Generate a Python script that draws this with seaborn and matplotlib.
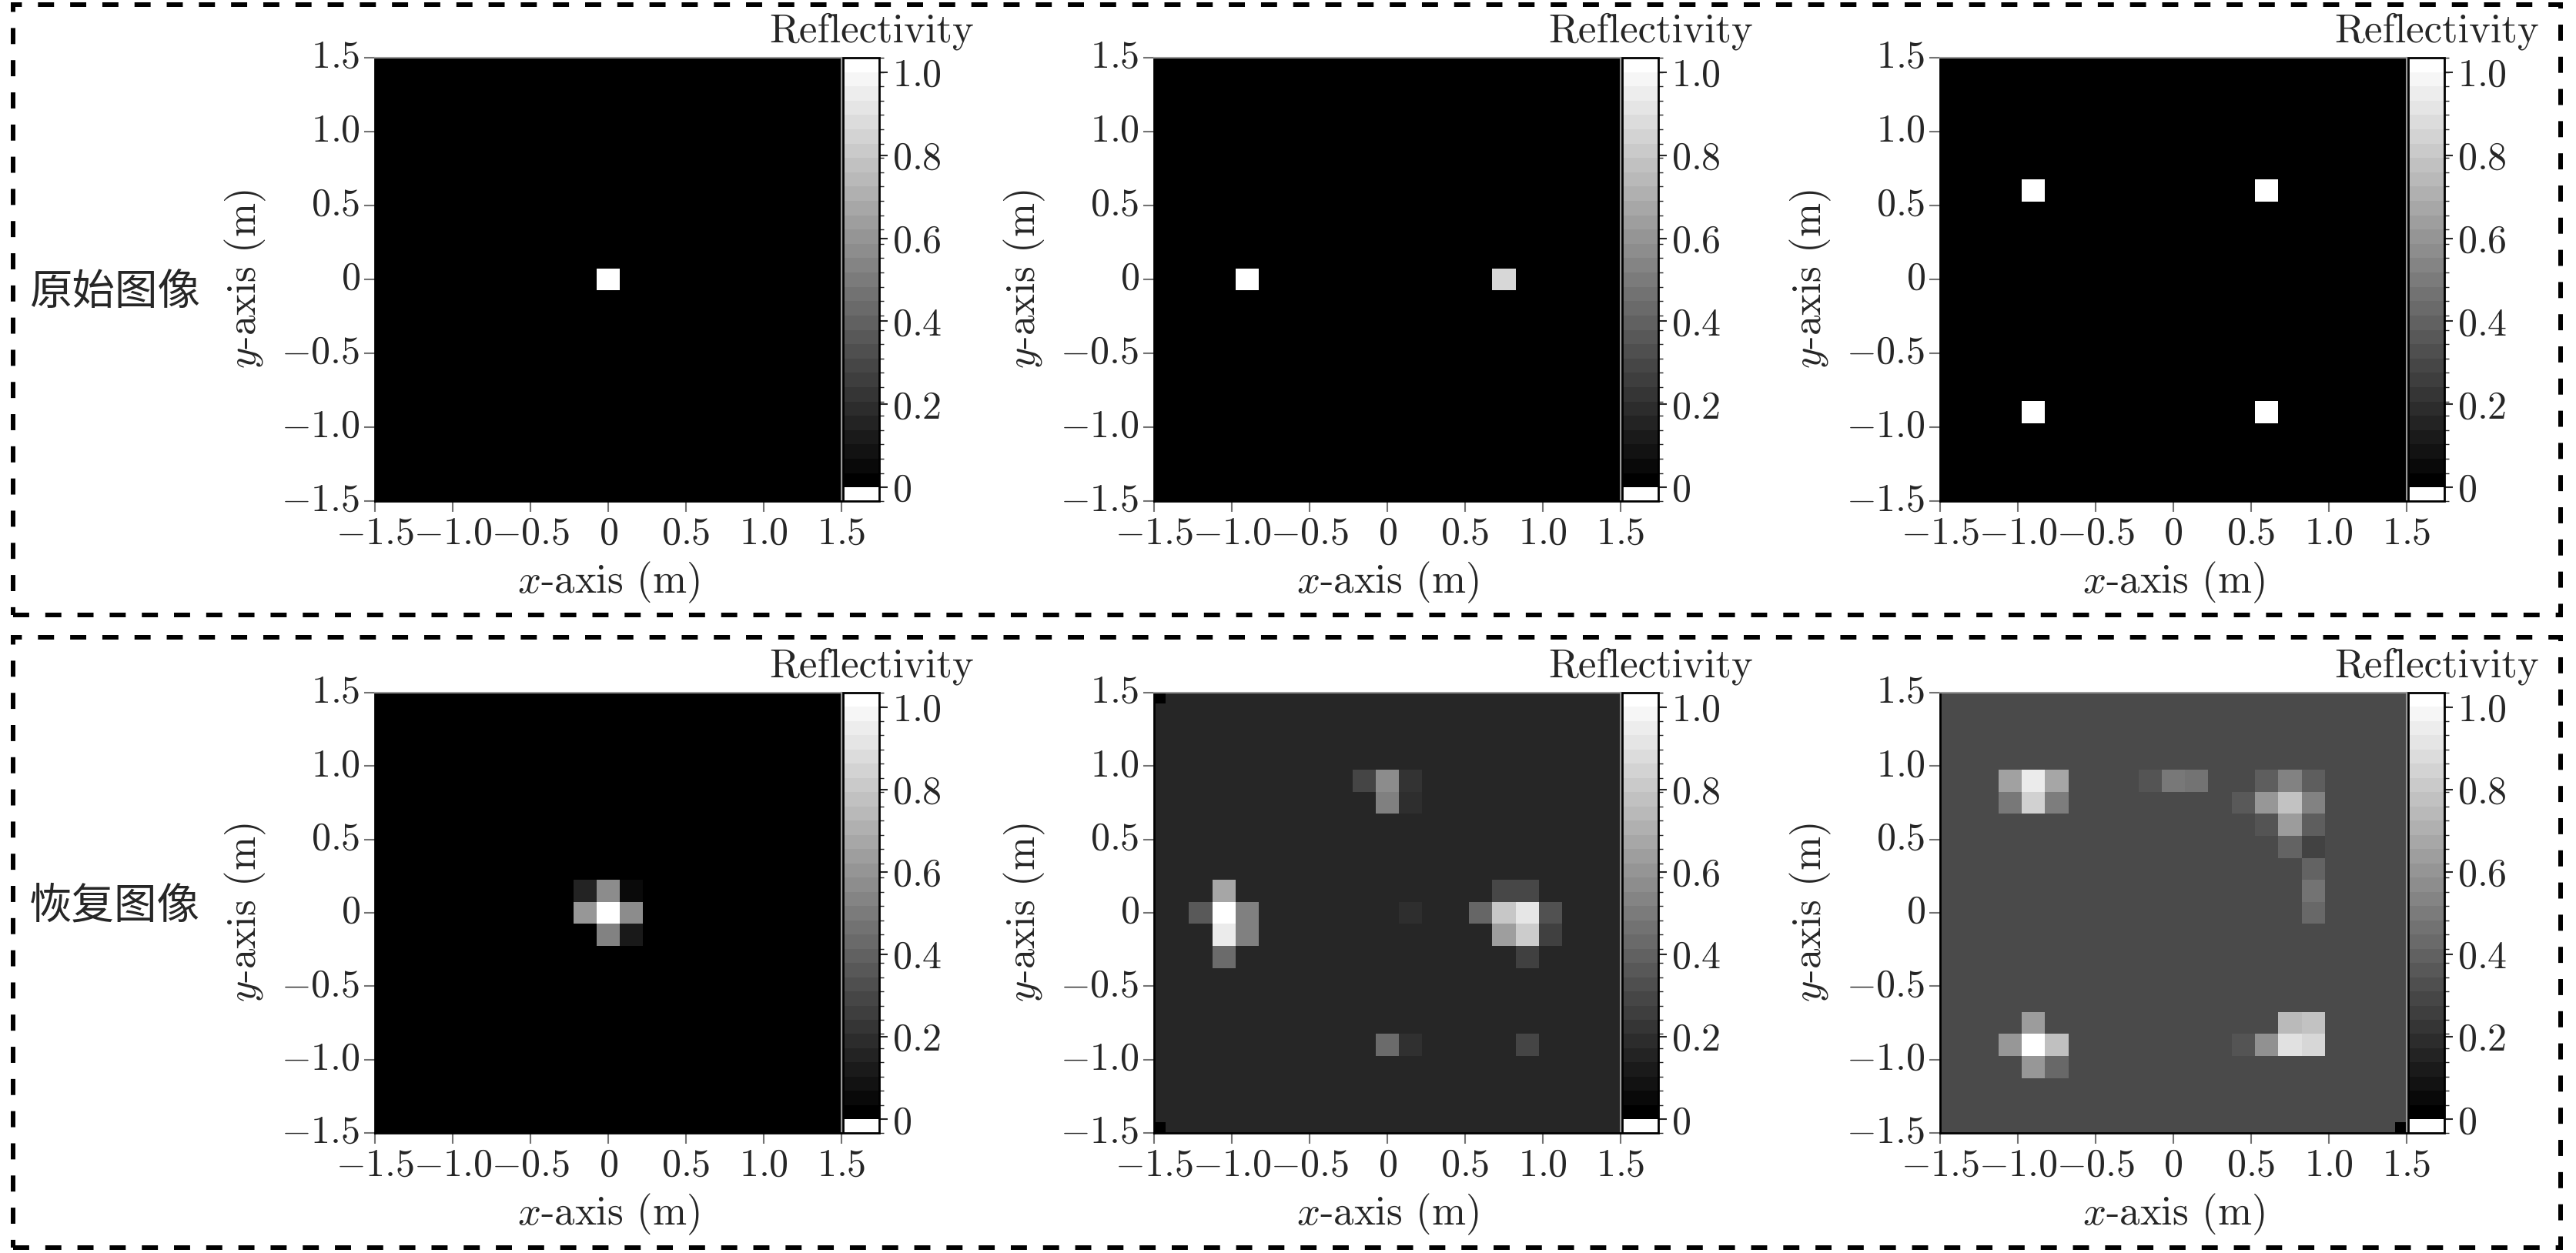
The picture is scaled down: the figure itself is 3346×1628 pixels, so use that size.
import numpy as np
import pandas as pd
import matplotlib
matplotlib.use("Agg")
import matplotlib.pyplot as plt
import matplotlib.colors as mcolors
from matplotlib.patches import Rectangle
import seaborn as sns

# grid: 21 x 21 cells, 0.15 m pitch, centres from -1.5 to 1.5
x_coords = np.round(np.linspace(-1.5, 1.5, 21), 2)
y_coords = x_coords[::-1]

# (x, y, reflectivity) of the non-background cells
orig_single = [(0.0, 0.0, 1.0)]
orig_two = [(-0.9, 0.0, 1.0), (0.75, 0.0, 0.84)]
orig_four = [(-0.9, 0.6, 1.0), (0.6, 0.6, 1.0), (-0.9, -0.9, 1.0), (0.6, -0.9, 1.0)]

rec_single = [(0.0, 0.0, 1.0), (0.0, 0.15, 0.55), (-0.15, 0.15, 0.14), (-0.15, 0.0, 0.59),
              (0.15, 0.0, 0.55), (0.0, -0.15, 0.51), (0.15, -0.15, 0.10), (0.15, 0.15, 0.04)]
rec_two = [(-0.15, 0.9, 0.27), (0.0, 0.9, 0.55), (0.15, 0.9, 0.20), (0.0, 0.75, 0.50), (0.15, 0.75, 0.18),
           (-1.05, 0.15, 0.65), (-1.2, 0.0, 0.35), (-1.05, 0.0, 1.0), (-0.9, 0.0, 0.50),
           (-1.05, -0.15, 0.92), (-0.9, -0.15, 0.50), (-1.05, -0.3, 0.42),
           (0.15, 0.0, 0.18),
           (0.75, 0.15, 0.28), (0.9, 0.15, 0.28), (0.6, 0.0, 0.40), (0.75, 0.0, 0.78), (0.9, 0.0, 0.90),
           (1.05, 0.0, 0.32), (0.75, -0.15, 0.62), (0.9, -0.15, 0.80), (1.05, -0.15, 0.25), (0.9, -0.3, 0.25),
           (0.0, -0.9, 0.42), (0.15, -0.9, 0.19), (0.9, -0.9, 0.27),
           (-1.5, 1.5, 0.0), (-1.5, -1.5, 0.0)]
rec_four = [(-1.05, 0.9, 0.63), (-0.9, 0.9, 0.92), (-0.75, 0.9, 0.65),
            (-1.05, 0.75, 0.47), (-0.9, 0.75, 0.82), (-0.75, 0.75, 0.49),
            (-0.15, 0.9, 0.33), (0.0, 0.9, 0.47), (0.15, 0.9, 0.45),
            (0.6, 0.9, 0.37), (0.75, 0.9, 0.51), (0.9, 0.9, 0.37),
            (0.45, 0.75, 0.35), (0.6, 0.75, 0.59), (0.75, 0.75, 0.76), (0.9, 0.75, 0.51),
            (0.6, 0.6, 0.33), (0.75, 0.6, 0.61), (0.9, 0.6, 0.37),
            (0.75, 0.45, 0.39), (0.9, 0.45, 0.26), (0.9, 0.3, 0.39), (0.9, 0.15, 0.45), (0.9, 0.0, 0.41),
            (-0.9, -0.75, 0.61), (-1.05, -0.9, 0.59), (-0.9, -0.9, 1.0), (-0.75, -0.9, 0.75),
            (-0.9, -1.05, 0.59), (-0.75, -1.05, 0.41),
            (0.75, -0.75, 0.73), (0.9, -0.75, 0.76),
            (0.45, -0.9, 0.33), (0.6, -0.9, 0.57), (0.75, -0.9, 0.88), (0.9, -0.9, 0.84),
            (1.5, -1.5, 0.0)]

panels = [[orig_single, orig_two, orig_four], [rec_single, rec_two, rec_four]]
backgrounds = [[0.0, 0.0, 0.0], [0.0, 0.15, 0.29]]
row_titles = ["原始图像", "恢复图像"]

axis_ticks = [-1.5, -1.0, -0.5, 0.0, 0.5, 1.0, 1.5]
axis_labels = ["$-1.5$", "$-1.0$", "$-0.5$", "$0$", "$0.5$", "$1.0$", "$1.5$"]
cbar_ticks = [0.0, 0.2, 0.4, 0.6, 0.8, 1.0]
cbar_labels = ["$0$", "$0.2$", "$0.4$", "$0.6$", "$0.8$", "$1.0$"]


def build_grid(background, cells):
    grid = pd.DataFrame(background, index=y_coords, columns=x_coords)
    for x, y, v in cells:
        ix = int(round((x + 1.5) / 0.15))
        iy = int(round((1.5 - y) / 0.15))
        grid.iloc[iy, ix] = v
    return grid


sns.set_theme(style="white")
plt.rcParams["font.family"] = ["cmr10"]
plt.rcParams["mathtext.fontset"] = "cm"
plt.rcParams["axes.unicode_minus"] = False

W, H = 3346, 1628
fig = plt.figure(figsize=(W / 100, H / 100), dpi=100)

# colorbar scale: 30 grey steps plus a white band below zero
bounds = np.concatenate([[-0.033], np.linspace(0.0, 1.035, 31)])
band_colors = ["white"] + [str(g) for g in np.linspace(0.0, 1.0, 30)]
cb_cmap = mcolors.ListedColormap(band_colors)
cb_norm = mcolors.BoundaryNorm(bounds, cb_cmap.N)

ax_lefts = [487, 1499, 2520]
ax_w = 606
row_tops = [75, 900]
row_bottoms = [651, 1472]

for r in range(2):
    for c in range(3):
        left = ax_lefts[c] / W
        bottom = 1 - row_bottoms[r] / H
        height = (row_bottoms[r] - row_tops[r]) / H
        ax = fig.add_axes([left, bottom, ax_w / W, height])
        grid = build_grid(backgrounds[r][c], panels[r][c])
        sns.heatmap(grid, ax=ax, cmap="gray", vmin=0, vmax=1, cbar=False)
        ax.set_xlim(0.5, 20.5)
        ax.set_ylim(20.5, 0.5)
        ax.set_xticks([(t + 1.5) / 0.15 + 0.5 for t in axis_ticks])
        ax.set_xticklabels(axis_labels, rotation=0)
        ax.set_yticks([(1.5 - t) / 0.15 + 0.5 for t in axis_ticks])
        ax.set_yticklabels(axis_labels, rotation=0)
        ax.tick_params(direction="out", length=10, width=1.5, color="0.45",
                       labelsize=36, pad=4, left=True, bottom=True)
        for side in ["left", "bottom"]:
            ax.spines[side].set_visible(True)
            ax.spines[side].set_color("black")
            ax.spines[side].set_linewidth(2)
        for side in ["top", "right"]:
            ax.spines[side].set_visible(True)
            ax.spines[side].set_color("0.6")
            ax.spines[side].set_linewidth(1.5)
        ax.set_xlabel("$x$-axis (m)", fontsize=38, labelpad=8)
        ax.set_ylabel("$y$-axis (m)", fontsize=38, labelpad=12)

        cax = fig.add_axes([(ax_lefts[c] + ax_w + 2) / W, bottom, 47 / W, height])
        sm = plt.cm.ScalarMappable(norm=cb_norm, cmap=cb_cmap)
        cb = fig.colorbar(sm, cax=cax, ticks=cbar_ticks, spacing="proportional")
        cb.ax.set_yticklabels(cbar_labels)
        cb.ax.tick_params(direction="out", length=8, width=1.5, labelsize=36, pad=4, right=True)
        cb.outline.set_edgecolor("black")
        cb.outline.set_linewidth(2)
        cax.text(0.78, 1.035, "Reflectivity", transform=cax.transAxes,
                 ha="center", va="baseline", fontsize=38)

# row titles
fig.text(38 / W, 1 - 380 / H, row_titles[0], fontsize=40,
         family=["Noto Sans CJK SC"], ha="left", va="center")
fig.text(38 / W, 1 - 1178 / H, row_titles[1], fontsize=40,
         family=["Noto Sans CJK SC"], ha="left", va="center")

# dashed frames round each row
for y0, y1 in [(6, 799), (828, 1621)]:
    fig.patches.append(Rectangle((17 / W, 1 - y1 / H), (3326 - 17) / W, (y1 - y0) / H,
                                 transform=fig.transFigure, fill=False, edgecolor="black",
                                 linewidth=4.3, linestyle=(0, (3.5, 3.5))))

fig.savefig("out.png", dpi=100)
